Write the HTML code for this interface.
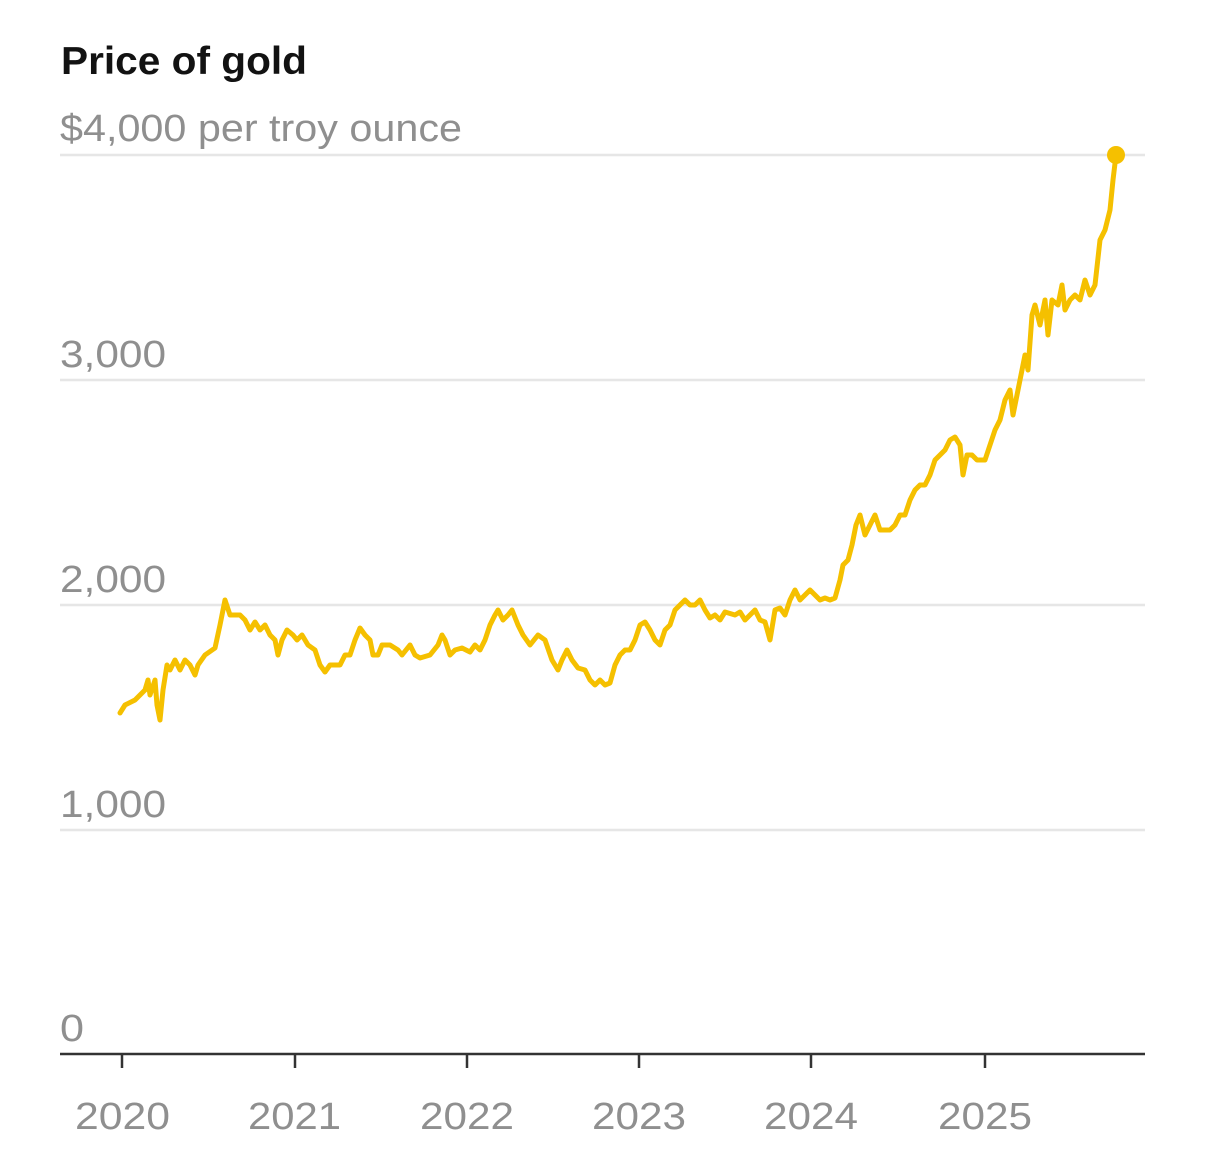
<!DOCTYPE html>
<html><head><meta charset="utf-8"><style>
html,body{margin:0;padding:0;background:#fff;}
svg{display:block;}
</style></head><body>
<svg width="1206" height="1169" viewBox="0 0 1206 1169" xmlns="http://www.w3.org/2000/svg">
<text x="61" y="74" font-family="Liberation Sans, sans-serif" font-weight="bold" font-size="39" fill="#121212" textLength="246" lengthAdjust="spacingAndGlyphs">Price of gold</text>
<g stroke="#e6e6e6" stroke-width="2.5">
<line x1="60" y1="155" x2="1145" y2="155"/>
<line x1="60" y1="380" x2="1145" y2="380"/>
<line x1="60" y1="605" x2="1145" y2="605"/>
<line x1="60" y1="830" x2="1145" y2="830"/>
</g>
<g font-family="Liberation Sans, sans-serif" font-size="38" fill="#8f8f8f" lengthAdjust="spacingAndGlyphs">
<text x="60" y="141" textLength="402" lengthAdjust="spacingAndGlyphs">$4,000 per troy ounce</text>
<text x="60" y="367" textLength="106" lengthAdjust="spacingAndGlyphs">3,000</text>
<text x="60" y="592" textLength="106" lengthAdjust="spacingAndGlyphs">2,000</text>
<text x="60" y="817" textLength="106" lengthAdjust="spacingAndGlyphs">1,000</text>
<text x="60" y="1041" textLength="24" lengthAdjust="spacingAndGlyphs">0</text>
<text x="75" y="1129" textLength="95" lengthAdjust="spacingAndGlyphs">2020</text>
<text x="248" y="1129" textLength="93" lengthAdjust="spacingAndGlyphs">2021</text>
<text x="420" y="1129" textLength="94" lengthAdjust="spacingAndGlyphs">2022</text>
<text x="592" y="1129" textLength="94" lengthAdjust="spacingAndGlyphs">2023</text>
<text x="764" y="1129" textLength="94" lengthAdjust="spacingAndGlyphs">2024</text>
<text x="938" y="1129" textLength="94" lengthAdjust="spacingAndGlyphs">2025</text>
</g>
<line x1="60" y1="1054" x2="1145" y2="1054" stroke="#333" stroke-width="2.5"/>
<g stroke="#333" stroke-width="2.5">
<line x1="122" y1="1054" x2="122" y2="1068"/>
<line x1="295" y1="1054" x2="295" y2="1068"/>
<line x1="467" y1="1054" x2="467" y2="1068"/>
<line x1="639" y1="1054" x2="639" y2="1068"/>
<line x1="811" y1="1054" x2="811" y2="1068"/>
<line x1="985" y1="1054" x2="985" y2="1068"/>
</g>
<polyline fill="none" stroke="#f5c000" stroke-width="5" stroke-linejoin="round" stroke-linecap="round" points="120,713 125,705 135,700 145,690 148,680 150,695 155,680 157,705 160,720 163,690 167,665 170,670 175,660 180,670 185,660 190,665 195,675 198,665 205,655 215,648 220,625 225,600 230,615 240,615 245,620 250,630 255,622 260,630 265,625 270,635 275,640 278,655 282,640 287,630 293,635 297,640 302,635 308,645 315,650 320,665 325,672 330,665 340,665 345,655 350,655 355,640 360,628 365,635 370,640 373,655 378,655 382,645 390,645 398,650 402,655 410,645 415,655 420,658 430,655 438,645 442,635 445,640 450,655 455,650 462,648 470,652 475,645 480,650 485,640 490,625 495,615 498,610 503,620 508,615 512,610 518,625 523,635 530,645 538,635 545,640 552,660 558,670 562,660 567,650 572,660 578,668 585,670 590,680 595,685 600,680 605,685 610,683 615,665 620,655 625,650 630,650 635,640 640,625 645,622 650,630 655,640 660,645 665,630 670,625 675,610 680,605 685,600 690,605 695,605 700,600 705,610 710,618 715,615 720,620 725,612 735,615 740,612 745,620 750,615 755,610 760,620 765,622 770,640 775,610 780,608 785,615 790,600 795,590 800,600 805,595 810,590 815,595 820,600 825,598 830,600 835,598 840,580 843,565 848,560 852,545 856,525 860,515 865,535 870,525 875,515 880,530 885,530 890,530 895,525 900,515 905,515 910,500 915,490 920,485 925,485 930,475 935,460 940,455 945,450 950,440 955,437 960,445 963,475 967,455 972,455 977,460 985,460 990,445 995,430 1000,420 1005,400 1010,390 1013,415 1017,395 1020,380 1025,355 1028,370 1032,315 1035,305 1040,325 1045,300 1048,335 1052,300 1058,305 1062,285 1065,310 1070,300 1075,295 1080,300 1085,280 1090,295 1095,285 1100,240 1105,230 1110,210 1113,180 1116,155"/>
<circle cx="1116" cy="155" r="9" fill="#f5c000"/>
</svg>
</body></html>
